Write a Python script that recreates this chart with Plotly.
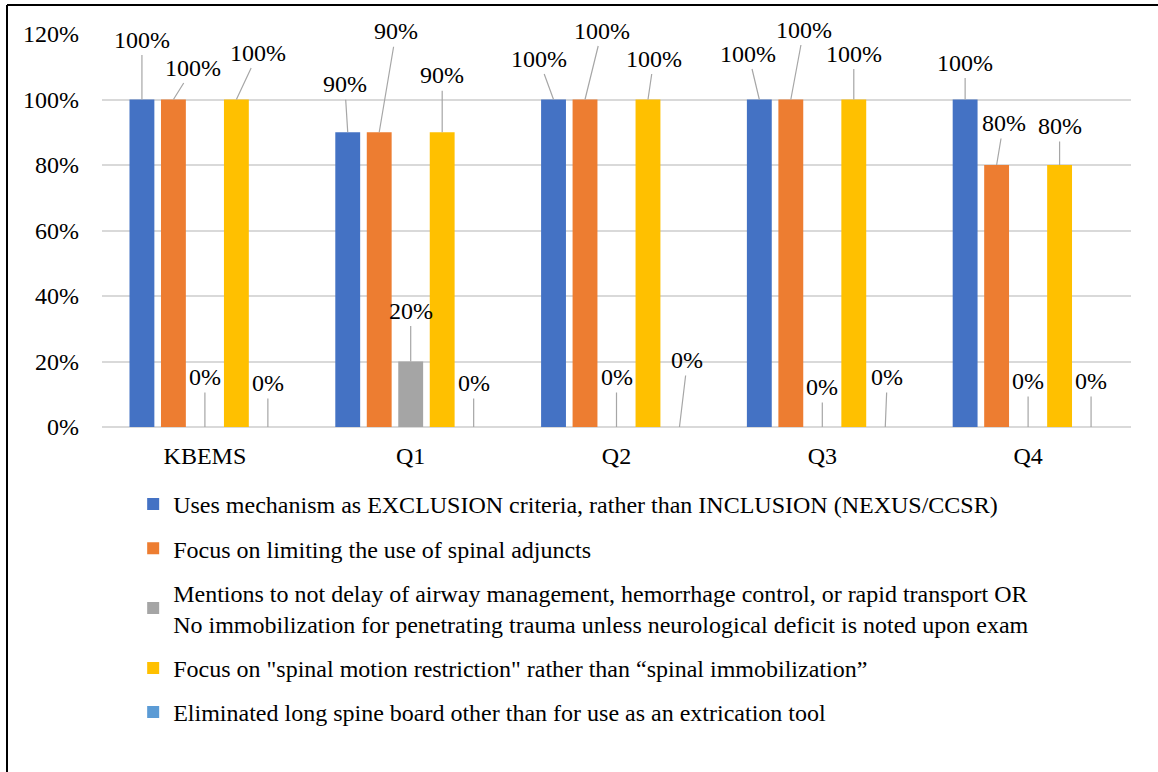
import plotly.graph_objects as go

categories = ["KBEMS", "Q1", "Q2", "Q3", "Q4"]
series_names = [
    "Uses mechanism as EXCLUSION criteria, rather than INCLUSION (NEXUS/CCSR)",
    "Focus on limiting the use of spinal adjuncts",
    "Mentions to not delay of airway management, hemorrhage control, or rapid transport OR<br>No immobilization for penetrating trauma unless neurological deficit is noted upon exam",
    "Focus on \"spinal motion restriction\" rather than \u201cspinal immobilization\u201d",
    "Eliminated long spine board other than for use as an extrication tool",
]
uses_mechanism = [1.0, 0.9, 1.0, 1.0, 1.0]
limiting_adjuncts = [1.0, 0.9, 1.0, 1.0, 0.8]
not_delay = [0.0, 0.2, 0.0, 0.0, 0.0]
motion_restriction = [1.0, 0.9, 1.0, 1.0, 0.8]
eliminated_board = [0.0, 0.0, 0.0, 0.0, 0.0]
y_ticks = [0, 0.2, 0.4, 0.6, 0.8, 1.0, 1.2]
y_tick_labels = ["0%", "20%", "40%", "60%", "80%", "100%", "120%"]

series_values = [uses_mechanism, limiting_adjuncts, not_delay, motion_restriction, eliminated_board]
colors = ["#4472C4", "#ED7D31", "#A5A5A5", "#FFC000", "#5B9BD5"]

# label offsets (pixels) for leader-lined data labels: [series][category] -> (ax, ay)
label_offsets = [
    [(0, -60), (-3, -48), (-15, -41), (-11, -46), (0, -37)],
    [(20, -32), (17, -101), (17, -69), (13, -70), (7, -42)],
    [(0, -50), (0, -51), (0, -50), (0, -40), (0, -46)],
    [(22, -47), (0, -57), (6, -41), (0, -46), (0, -39)],
    [(0, -44), (0, -44), (8, -67), (2, -50), (0, -46)],
]

FONT = "Liberation Serif, Times New Roman, serif"
FS = 24
bargap = 0.235
n_series = len(series_values)
slot = (1 - bargap) / n_series
xpos = list(range(len(categories)))

fig = go.Figure()
for i, (name, vals, col) in enumerate(zip(series_names, series_values, colors)):
    fig.add_trace(go.Bar(
        x=xpos, y=vals, name=name, marker=dict(color=col, line=dict(width=0)),
        legendgroup=f"g{i}",
    ))

annotations = []
for i, vals in enumerate(series_values):
    for j, v in enumerate(vals):
        ax, ay = label_offsets[i][j]
        annotations.append(dict(
            x=xpos[j] + (i - (n_series - 1) / 2) * slot, y=v, xref="x", yref="y",
            text=f"{round(v * 100)}%", showarrow=True, arrowhead=0, arrowwidth=1.2,
            arrowcolor="#A6A6A6", ax=ax, ay=ay, axref="pixel", ayref="pixel",
            font=dict(family=FONT, size=FS, color="#000000"),
            borderpad=2,
        ))

fig.update_layout(
    width=1158, height=772,
    margin=dict(l=102, r=27, t=34, b=345, autoexpand=False),
    paper_bgcolor="white", plot_bgcolor="white",
    barmode="group", bargap=bargap, bargroupgap=0.21,
    font=dict(family=FONT, size=FS, color="#000000"),
    annotations=annotations,
    showlegend=True,
    legend=dict(
        orientation="v", xref="container", yref="container",
        x=0.115, y=1 - 482 / 772, xanchor="left", yanchor="top",
        font=dict(family=FONT, size=FS, color="#000000"),
        tracegroupgap=10, traceorder="grouped", bgcolor="rgba(0,0,0,0)",
        itemclick=False,
    ),
    shapes=[
        dict(type="line", xref="paper", yref="paper",
             x0=-95 / 1029, x1=1.1, y0=1 + 29 / 393, y1=1 + 29 / 393,
             line=dict(color="black", width=2)),
        dict(type="line", xref="paper", yref="paper",
             x0=-95 / 1029, x1=-95 / 1029, y0=1 + 29 / 393, y1=-2,
             line=dict(color="black", width=2)),
    ],
)
fig.update_xaxes(
    range=[-0.5, len(categories) - 0.5], tickvals=xpos, ticktext=categories,
    showgrid=False, showline=False, zeroline=False,
    ticks="", ticklabelstandoff=12,
    tickfont=dict(family=FONT, size=FS, color="#000000"),
)
fig.update_yaxes(
    range=[0, 1.2], tickvals=y_ticks, ticktext=y_tick_labels,
    showgrid=True, gridcolor="#D9D9D9", gridwidth=1.5,
    zeroline=True, zerolinecolor="#D9D9D9", zerolinewidth=1.5,
    showline=False, ticks="", ticklabelstandoff=22,
    tickfont=dict(family=FONT, size=FS, color="#000000"),
)

fig.write_html("out.html")
